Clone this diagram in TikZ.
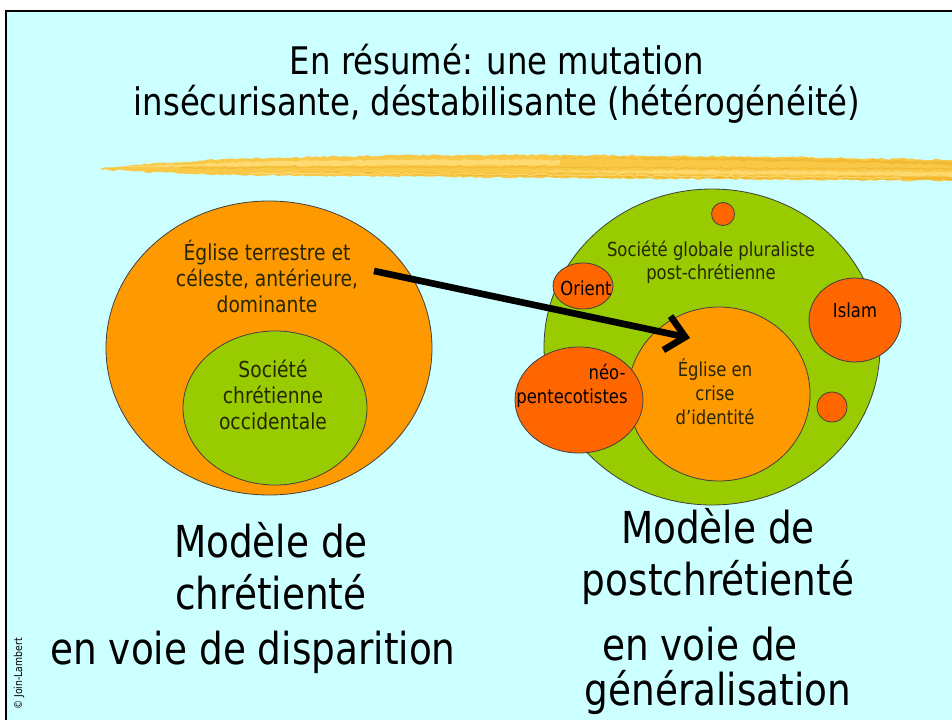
\documentclass[tikz,border=0pt]{standalone}
\usepackage{fontspec}
\setmainfont{DejaVu Sans}[FakeStretch=0.85]
\usetikzlibrary{shapes.geometric,arrows.meta,decorations.pathmorphing}

\definecolor{slidebg}{HTML}{CCFFFF}
\definecolor{churchorange}{HTML}{FF9900}
\definecolor{societygreen}{HTML}{99CC00}
\definecolor{otherred}{HTML}{FF6600}
\definecolor{brushyellow}{HTML}{F8C846}
\definecolor{brushlight}{HTML}{FFE07E}
\definecolor{brushdark}{HTML}{EEAE22}
\definecolor{inktext}{HTML}{262600}

\tikzset{every picture/.style={line width=0.75pt}}
\tikzset{
  blob/.style={ellipse, draw=black!75, line width=0.6pt, inner sep=0pt},
  rough/.style={decorate, decoration={random steps, segment length=3pt, amplitude=0.7pt}},
  titletxt/.style={align=center, inner sep=0pt, font=\fontsize{28.5}{30.75}\selectfont},
  bigtxt/.style={align=center, inner sep=0pt, font=\fontsize{33}{39}\selectfont},
  circtxt/.style={align=center, inner sep=0pt, text=inktext, font=\fontsize{16.5}{19.5}\selectfont},
  smalltxt/.style={align=center, inner sep=0pt, text=inktext, font=\fontsize{14.5}{17.5}\selectfont},
  redtxt/.style={align=center, inner sep=0pt, font=\fontsize{14.5}{19.5}\selectfont},
}

\begin{document}
\begin{tikzpicture}[x=0.75pt,y=0.75pt,yscale=-1,xscale=1]
\useasboundingbox (0,0) rectangle (952,720);

%Slide frame
\fill[slidebg] (5,11) rectangle (952,720);
\draw[line width=1.5pt] (5.5,720) -- (5.5,11) -- (952,11);

% Title
\node[titletxt] (title) at (497,84) {En résumé: une mutation\\insécurisante, déstabilisante (hétérogénéité)};

%Brush stroke
\fill[brushyellow, rough] (100,169) .. controls (160,160) and (300,155) .. (500,155) .. controls (700,155) and (850,158) .. (952,160) -- (952,181) .. controls (800,179) and (600,179) .. (450,177) .. controls (300,176) and (160,175) .. (100,169) -- cycle;
\fill[brushlight, opacity=0.8, rough] (120,167) .. controls (250,160) and (400,159) .. (560,160) -- (560,165) .. controls (400,165) and (250,166) .. (120,167) -- cycle;
\fill[brushlight, opacity=0.7, rough] (520,171) .. controls (650,170) and (800,171) .. (952,172) -- (952,176) .. controls (800,175) and (650,174) .. (520,171) -- cycle;
\fill[brushdark, opacity=0.6, rough] (300,172) .. controls (450,173) and (700,176) .. (952,177) -- (952,180) .. controls (700,179) and (450,176) .. (300,172) -- cycle;
\fill[brushdark, opacity=0.5, rough] (560,158) .. controls (700,157) and (850,159) .. (952,162) -- (952,165) .. controls (850,162) and (700,160) .. (560,158) -- cycle;
\draw[brushdark, opacity=0.5, line width=0.8pt, rough] (180,168) .. controls (350,166) and (600,168) .. (952,169);
\draw[brushlight, opacity=0.8, line width=0.8pt, rough] (250,173) .. controls (450,174) and (700,176) .. (900,178);

%Left model
\node[blob, fill=churchorange, minimum width=244.5pt, minimum height=220.5pt] (oldchurch) at (269,348) {};
\node[blob, fill=societygreen, minimum width=138pt, minimum height=115.5pt] (oldsociety) at (275,408) {};
\node[circtxt] (oldchurchtxt) at (267,276) {Église terrestre et\\céleste, antérieure,\\dominante};
\node[circtxt] (oldsocietytxt) at (273,395) {Société\\chrétienne\\occidentale};

%Right model
\node[blob, fill=societygreen, minimum width=252pt, minimum height=237pt] (newsociety) at (712,347) {};
\node[blob, fill=churchorange, minimum width=136.5pt, minimum height=130.5pt] (newchurch) at (719,394) {};
\node[blob, fill=otherred, minimum size=17.25pt] (dotA) at (723,214) {};
\node[blob, fill=otherred, minimum width=45pt, minimum height=34.5pt] (orient) at (583,286) {};
\node[blob, fill=otherred, minimum width=69pt, minimum height=63pt] (islam) at (855,320) {};
\node[blob, fill=otherred, minimum size=22.5pt] (dotB) at (832,407) {};
\node[blob, fill=otherred, minimum width=96pt, minimum height=79.5pt] (neopent) at (579,400) {};
\node[smalltxt] (newsocietytxt) at (711,262) {Société globale pluraliste\\post-chrétienne};
\node[circtxt, font=\fontsize{14.5}{18}\selectfont] (newchurchtxt) at (715,392) {Église en\\crise\\d’identité};
\node[redtxt] (orienttxt) at (586,288) {Orient};
\node[redtxt] (islamtxt) at (855,310) {Islam};
\node[redtxt, anchor=east] (neotxt) at (626,372) {néo-};
\node[redtxt] (penttxt) at (572,398) {pentecotistes};

%Shift arrow
\coordinate (arrstart) at (374,271);
\coordinate (arrend) at (690,338);
\draw[line width=5pt, -{Straight Barb[length=14pt,width=26pt]}] (arrstart) -- (arrend);

%Captions
\node[bigtxt] (oldmodel) at (271,566) {Modèle de\\chrétienté};
\node[bigtxt] (oldfate) at (253,652) {en voie de disparition};
\node[bigtxt] (newmodel) at (718,556) {Modèle de\\postchrétienté};
\node[bigtxt] (newfate1) at (700,644) {en voie de};
\node[bigtxt] (newfate2) at (718,692) {généralisation};

\node[rotate=90, inner sep=0pt, font=\fontsize{8.2}{9}\selectfont] (copyright) at (19,674) {© Join-Lambert};

\end{tikzpicture}
\end{document}
